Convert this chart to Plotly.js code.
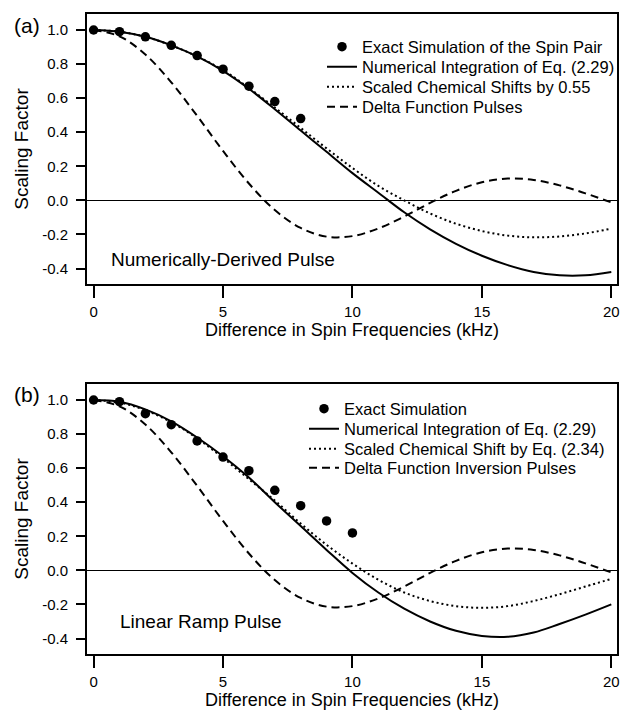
<!DOCTYPE html>
<html>
<head>
<meta charset="utf-8">
<script src="https://cdn.plot.ly/plotly-3.0.1.min.js"></script>
<style>
  html, body { margin: 0; padding: 0; background: #fff; }
  #chart { width: 621px; height: 710px; }
</style>
</head>
<body>
<div id="chart"></div>
<script>
// Frequency difference between the two spins (kHz)
const freq = [0, 1, 2, 3, 4, 5, 6, 7, 8, 9, 10, 11, 12, 13, 14, 15, 16, 17, 18, 19, 20];

// (a) numerically-derived pulse
const exactFreqA = [0, 1, 2, 3, 4, 5, 6, 7, 8];
const exactA = [1.00, 0.99, 0.96, 0.91, 0.85, 0.77, 0.67, 0.58, 0.48];
const integA = [1.00, 0.99, 0.96, 0.91, 0.845, 0.76, 0.655, 0.535, 0.41, 0.285, 0.16,
                0.045, -0.07, -0.17, -0.255, -0.325, -0.38, -0.42, -0.44, -0.44, -0.42];
const scaledA = [1.00, 0.99, 0.96, 0.91, 0.845, 0.765, 0.66, 0.545, 0.425, 0.305, 0.19,
                 0.085, 0.0, -0.077, -0.137, -0.18, -0.207, -0.217, -0.212, -0.194, -0.166];

// (b) linear ramp pulse
const exactFreqB = [0, 1, 2, 3, 4, 5, 6, 7, 8, 9, 10];
const exactB = [1.00, 0.99, 0.92, 0.855, 0.76, 0.665, 0.585, 0.47, 0.38, 0.29, 0.22];
const integB = [1.00, 0.99, 0.945, 0.875, 0.78, 0.67, 0.545, 0.40, 0.26, 0.12, -0.015,
                -0.13, -0.225, -0.30, -0.355, -0.385, -0.39, -0.365, -0.315, -0.26, -0.20];
const scaledB = [1.00, 0.985, 0.94, 0.87, 0.775, 0.66, 0.535, 0.41, 0.275, 0.15, 0.04,
                 -0.055, -0.13, -0.18, -0.21, -0.22, -0.21, -0.18, -0.14, -0.095, -0.05];

// delta-function pulse limit (same in both panels)
const deltaPulse = [1.00, 0.963, 0.856, 0.693, 0.496, 0.29, 0.099, -0.057, -0.162, -0.213, -0.21,
                    -0.165, -0.095, -0.015, 0.056, 0.106, 0.128, 0.12, 0.088, 0.041, -0.012];

const FONT = 'Liberation Sans, Arial, Helvetica, sans-serif';
const W = 621, H = 710;
// plot area: 87..617 px across, 14..654 px down (whole-pixel edges keep axis paths clean)
const M = {l: 87, r: 4, t: 14, b: 56, autoexpand: false};
const PW = W - M.l - M.r;        // 530
const PH = H - M.t - M.b;        // 640
const px = v => (v - M.l) / PW;  // horizontal pixel -> paper
const py = v => (M.t + PH - v) / PH;  // vertical pixel (from top) -> paper

const solid = {color: '#000', width: 2, shape: 'spline', smoothing: 1};
const dotted = {color: '#000', width: 2, dash: '2px,3px', shape: 'spline', smoothing: 1};
const dashed = {color: '#000', width: 2, dash: '8px,5px', shape: 'spline', smoothing: 1};
const dotMarker = {color: '#000', size: 9.5};

// each legend entry gets its own legend box so the rows sit 20px apart
const traces = [
  {x: exactFreqA, y: exactA, mode: 'markers', marker: dotMarker,
   name: 'Exact Simulation of the Spin Pair', xaxis: 'x', yaxis: 'y', legend: 'legend'},
  {x: freq, y: integA, mode: 'lines', line: solid,
   name: 'Numerical Integration of Eq. (2.29)', xaxis: 'x', yaxis: 'y', legend: 'legend2'},
  {x: freq, y: scaledA, mode: 'lines', line: dotted,
   name: 'Scaled Chemical Shifts by 0.55', xaxis: 'x', yaxis: 'y', legend: 'legend3'},
  {x: freq, y: deltaPulse, mode: 'lines', line: dashed,
   name: 'Delta Function Pulses', xaxis: 'x', yaxis: 'y', legend: 'legend4'},

  {x: exactFreqB, y: exactB, mode: 'markers', marker: dotMarker,
   name: 'Exact Simulation', xaxis: 'x2', yaxis: 'y2', legend: 'legend5'},
  {x: freq, y: integB, mode: 'lines', line: solid,
   name: 'Numerical Integration of Eq. (2.29)', xaxis: 'x2', yaxis: 'y2', legend: 'legend6'},
  {x: freq, y: scaledB, mode: 'lines', line: dotted,
   name: 'Scaled Chemical Shift by Eq. (2.34)', xaxis: 'x2', yaxis: 'y2', legend: 'legend7'},
  {x: freq, y: deltaPulse, mode: 'lines', line: dashed,
   name: 'Delta Function Inversion Pulses', xaxis: 'x2', yaxis: 'y2', legend: 'legend8'}
];

const xRange = [-0.255, 20.22];
const yRange = [-0.491, 1.094];
const ydomA = [0.578125, 1];      // 270 px panel at the top
const ydomB = [0, 0.421875];      // 270 px panel at the bottom

function xAxis(yName) {
  return {
    domain: [0, 1], range: xRange, anchor: yName,
    showline: true, mirror: true, linewidth: 2, linecolor: '#000',
    showgrid: false, zeroline: false,
    ticks: 'outside', ticklen: 12, tickwidth: 2, tickcolor: '#000', ticklabelstandoff: 1,
    tickvals: [0, 5, 10, 15, 20], ticktext: ['0', '5', '10', '15', '20'],
    tickfont: {family: FONT, size: 15, color: '#000'},
    title: {text: 'Difference in Spin Frequencies (kHz)', standoff: 4,
            font: {family: FONT, size: 18, color: '#000'}},
    fixedrange: true
  };
}
function yAxis(domain, xName) {
  return {
    domain: domain, range: yRange, anchor: xName,
    showline: true, mirror: true, linewidth: 2, linecolor: '#000',
    showgrid: false,
    zeroline: true, zerolinecolor: '#000', zerolinewidth: 1.5,
    ticks: 'outside', ticklen: 9, tickwidth: 2, tickcolor: '#000', ticklabelstandoff: 5,
    tickvals: [-0.4, -0.2, 0, 0.2, 0.4, 0.6, 0.8, 1.0],
    ticktext: ['-0.4', '-0.2', '0.0', '0.2', '0.4', '0.6', '0.8', '1.0'],
    tickfont: {family: FONT, size: 15, color: '#000'},
    title: {text: 'Scaling Factor', standoff: 8, font: {family: FONT, size: 19, color: '#000'}},
    fixedrange: true
  };
}

function legendRow(xPix, yPix) {
  return {
    x: px(xPix), y: py(yPix), xanchor: 'left', yanchor: 'middle',
    font: {family: FONT, size: 16.5, color: '#000'},
    bgcolor: 'rgba(0,0,0,0)', borderwidth: 0, itemwidth: 30
  };
}

const layout = {
  width: W, height: H,
  margin: M,
  paper_bgcolor: '#fff', plot_bgcolor: '#fff',
  font: {family: FONT, color: '#000'},
  showlegend: true,
  xaxis: xAxis('y'), yaxis: yAxis(ydomA, 'x'),
  xaxis2: xAxis('y2'), yaxis2: yAxis(ydomB, 'x2'),
  legend: legendRow(322, 47),
  legend2: legendRow(322, 67),
  legend3: legendRow(322, 87),
  legend4: legendRow(322, 107),
  legend5: legendRow(304, 409),
  legend6: legendRow(304, 429),
  legend7: legendRow(304, 449),
  legend8: legendRow(304, 468),
  annotations: [
    {text: '(a)', xref: 'paper', yref: 'paper', x: px(12), y: py(25), xanchor: 'left', yanchor: 'middle',
     showarrow: false, font: {family: FONT, size: 21, color: '#000'}},
    {text: '(b)', xref: 'paper', yref: 'paper', x: px(12), y: py(394), xanchor: 'left', yanchor: 'middle',
     showarrow: false, font: {family: FONT, size: 21, color: '#000'}},
    {text: 'Numerically-Derived Pulse', xref: 'x', yref: 'y', x: 0.6, y: -0.345, xanchor: 'left', yanchor: 'middle',
     showarrow: false, font: {family: FONT, size: 19, color: '#000'}},
    {text: 'Linear Ramp Pulse', xref: 'x2', yref: 'y2', x: 0.95, y: -0.298, xanchor: 'left', yanchor: 'middle',
     showarrow: false, font: {family: FONT, size: 19, color: '#000'}}
  ]
};

Plotly.newPlot('chart', traces, layout, {displayModeBar: false, staticPlot: true});
</script>
</body>
</html>
